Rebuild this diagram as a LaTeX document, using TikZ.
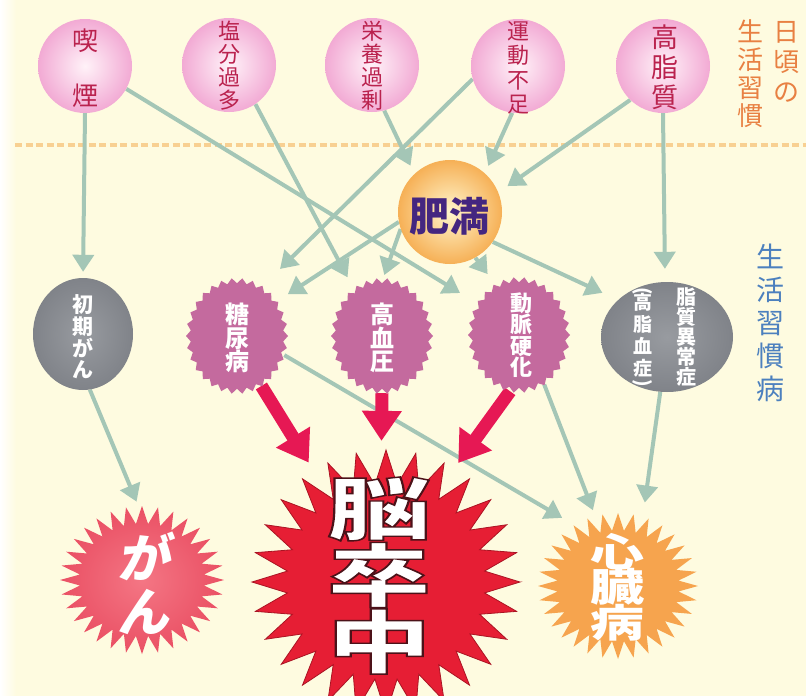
\documentclass[tikz,border=0pt]{standalone}
\usepackage{fontspec}
\usepackage{graphicx}
\usetikzlibrary{arrows.meta,shapes.geometric}
\newfontfamily\jp{Noto Sans CJK JP}
\newfontfamily\jpsl{Noto Sans CJK JP}[FakeSlant=0.18]
\definecolor{bg}{RGB}{254,251,224}
\definecolor{connc}{RGB}{164,198,182}
\definecolor{dashc}{RGB}{248,208,146}
\definecolor{pinke}{RGB}{242,170,212}
\definecolor{pinkc}{RGB}{255,242,248}
\definecolor{toptext}{RGB}{186,34,78}
\definecolor{orge}{RGB}{246,176,86}
\definecolor{orgc}{RGB}{255,246,205}
\definecolor{himantext}{RGB}{68,38,128}
\definecolor{greyin}{RGB}{152,155,160}
\definecolor{greyout}{RGB}{128,131,137}
\definecolor{mauve}{RGB}{196,106,158}
\definecolor{ganin}{RGB}{244,118,132}
\definecolor{ganout}{RGB}{234,80,100}
\definecolor{nosored}{RGB}{230,30,52}
\definecolor{nosodark}{RGB}{170,20,35}
\definecolor{shinorg}{RGB}{246,164,78}
\definecolor{redarrow}{RGB}{230,24,84}
\definecolor{lblorange}{RGB}{232,128,66}
\definecolor{lblblue}{RGB}{76,128,190}
\pgfdeclarelayer{back}
\pgfdeclarelayer{lines}
\pgfsetlayers{back,lines,main}
\newcommand\burst[8]{%
  \path[#8] plot[domain=0:360,samples=#6,variable=\t]
   ({#1+#3*(1-#7*(0.5-0.5*cos(#5*\t)))*cos(\t)},
    {#2+#4*(1-#7*(0.5-0.5*cos(#5*\t)))*sin(\t)}) -- cycle;}
% white glyph with a dark outline (one text, no copy)
\newcommand\outlined[1]{\scalebox{1}[0.66]{\textcolor{white}{\special{pdf:literal direct 0.30 0.07 0.10 RG 2.2 w 2 Tr}#1\special{pdf:literal direct 0 Tr}}}}
\newcommand\squash[1]{\scalebox{1}[0.72]{#1}}
\newcommand\vparL{\rotatebox[origin=c]{-90}{(}}
\newcommand\vparR{\rotatebox[origin=c]{-90}{)}}
\lineskiplimit=-100pt
\begin{document}
\begin{tikzpicture}[x=1pt,y=-1pt,
  sphere/.style={circle,minimum size=94pt,inner sep=0pt,inner color=pinkc,outer color=pinke},
  anc/.style={ellipse,inner sep=0pt},
  txt/.style={align=center,inner sep=0pt},
  toptxt/.style={txt,text=toptext,font={\jp\fontsize{22}{23}\selectfont}},
  r2txt/.style={txt,text=white,font={\jp\bfseries\fontsize{22}{23.5}\selectfont}},
  lbl/.style={txt,font={\jp\fontsize{26}{28}\selectfont}},
  nosotxt/.style={txt,font={\jp\bfseries\fontsize{104}{66.5}\selectfont}},
  shintxt/.style={txt,text=white,font={\jp\bfseries\fontsize{54}{35.5}\selectfont}},
  conn/.style={draw=connc,line width=4pt,-{Triangle[length=17pt,width=21pt]}},
  redarr/.style={draw=redarrow,line width=13pt,-{Triangle[length=30pt,width=38pt]}}
]
\useasboundingbox (0,0) rectangle (806,696);
\begin{pgfonlayer}{back}
  \fill[bg] (0,0) rectangle (806,696);
  \shade[left color=white,right color=bg] (0,0) rectangle (16,696);
  \draw[dashc,line width=4pt,dash pattern=on 7pt off 3.5pt] (15,145) -- (806,145);
\end{pgfonlayer}

% top spheres
\node[sphere] (kitsuen) at (85,66) {};
\node[sphere] (enbun) at (229,65) {};
\node[sphere] (eiyou) at (372,65) {};
\node[sphere] (undou) at (518,66) {};
\node[sphere] (koushi) at (663,66) {};
\node[toptxt,font={\jp\fontsize{26}{55}\selectfont}] (kitsuen-t) at (85,68) {喫\\煙};
\node[toptxt] (enbun-t) at (229,66) {塩\\分\\過\\多};
\node[toptxt] (eiyou-t) at (372,66) {栄\\養\\過\\剰};
\node[toptxt,font={\jp\fontsize{22}{24.5}\selectfont}] (undou-t) at (518,68) {運\\動\\不\\足};
\node[toptxt,font={\jp\fontsize{27}{30}\selectfont}] (koushi-t) at (665,67) {高\\脂\\質};

% obesity
\node[circle,minimum size=104pt,inner sep=0pt,inner color=orgc,outer color=orge] (himan) at (450,212) {};
\node[txt,text=himantext,font={\jp\bfseries\fontsize{40}{40}\selectfont}] (himan-t) at (449,216) {肥満};

% row 2
\node[anc,minimum width=100pt,minimum height=112pt,inner color=greyin,outer color=greyout] (shoki) at (83,334) {};
\node[r2txt,font={\jp\bfseries\fontsize{21}{21.7}\selectfont}] (shoki-t) at (83,337) {初\\期\\が\\ん};

\burst{237}{336}{51}{58}{30}{61}{0.09}{fill=mauve}
\node[anc,minimum width=100pt,minimum height=114pt] (tounyou) at (237,336) {};
\node[r2txt,font={\jp\bfseries\fontsize{24}{23.5}\selectfont}] (tounyou-t) at (237,338) {糖\\尿\\病};

\burst{382}{336}{51}{58}{30}{61}{0.09}{fill=mauve}
\node[anc,minimum width=100pt,minimum height=114pt] (kouketsu) at (382,336) {};
\node[r2txt,font={\jp\bfseries\fontsize{24}{23.5}\selectfont}] (kouketsu-t) at (382,338) {高\\血\\圧};

\burst{519}{335}{51}{58}{30}{61}{0.09}{fill=mauve}
\node[anc,minimum width=100pt,minimum height=114pt] (doumyaku) at (519,335) {};
\node[r2txt,font={\jp\bfseries\fontsize{22}{21.3}\selectfont}] (doumyaku-t) at (521,335) {動\\脈\\硬\\化};

\node[anc,minimum width=132pt,minimum height=110pt,inner color=greyin,outer color=greyout] (shishitsu) at (667,337) {};
\node[r2txt,font={\jp\bfseries\fontsize{20}{20}\selectfont}] (shishitsu-a) at (686,337) {脂\\質\\異\\常\\症};
\node[r2txt,font={\jp\bfseries\fontsize{19}{22}\selectfont}] (shishitsu-b) at (643,338) {\vparL\\[-9pt]高\\脂\\血\\症\\[-9pt]\vparR};

% bottom
\burst{142}{580}{82}{74}{32}{65}{0.24}{inner color=ganin,outer color=ganout}
\node[anc,minimum width=150pt,minimum height=136pt] (gan) at (142,580) {};
\node[txt,text=white,font={\jpsl\bfseries\fontsize{52}{54}\selectfont}] (gan-t) at (143,583) {が\\ん};

\burst{386}{582}{134}{132}{28}{57}{0.26}{fill=nosored,draw=nosodark,line width=0.8pt}
\node[circle,minimum size=264pt,inner sep=0pt] (noso) at (386,582) {};
\node[nosotxt] (noso-t) at (379,575.5) {\outlined{脳}\\\outlined{卒}\\\outlined{中}};

\burst{618}{586}{80}{73}{32}{65}{0.24}{fill=shinorg}
\node[anc,minimum width=156pt,minimum height=142pt] (shinzou) at (618,586) {};
\node[shintxt] (shinzou-t) at (617,587) {\squash{心}\\\squash{臓}\\\squash{病}};

% labels
\node[lbl,text=lblorange,font={\jp\fontsize{26}{30}\selectfont}] (lbl-a) at (786,62) {日\\頃\\の};
\node[lbl,text=lblorange] (lbl-b) at (750,74) {生\\活\\習\\慣};
\node[lbl,text=lblblue,font={\jp\fontsize{28}{33}\selectfont}] (lbl-c) at (770,323) {生\\活\\習\\慣\\病};

% connectors
\begin{pgfonlayer}{lines}
\draw[conn,shorten >=6pt] (kitsuen.-90) -- (shoki.90);
\draw[conn,shorten >=20pt] (kitsuen.-29) -- (doumyaku.143);
\draw[conn,shorten >=13pt] (enbun.-56) -- (kouketsu.121);
\draw[conn,shorten >=9pt] (eiyou.-75) -- (himan.133);
\draw[conn,shorten >=8pt] (undou.-97) -- (himan.48);
\draw[conn,shorten >=25pt] (undou.-164) -- (tounyou.63);
\draw[conn,shorten >=11pt] (koushi.-134) -- (himan.22);
\draw[conn,shorten >=13pt] (koushi.-90) -- (shishitsu.92);
\draw[conn,shorten >=13pt] (himan.-169) -- (tounyou.41);
\draw[conn,shorten >=4pt] (himan.-161) -- (kouketsu.89);
\draw[conn,shorten >=13pt] (himan.-61) -- (doumyaku.115);
\draw[conn,shorten >=17pt] (himan.-35) -- (shishitsu.143);
\draw[conn,shorten >=11pt] (shoki.-83) -- (gan.91);
\draw[conn,shorten >=16pt] (tounyou.-22) -- (shinzou.125);
\draw[conn,shorten >=8pt] (doumyaku.-63) -- (shinzou.108);
\draw[conn,shorten >=16pt] (shishitsu.-97) -- (shinzou.70);
\draw[redarr,shorten >=10pt] (tounyou.-64) -- (noso.123);
\draw[redarr,shorten >=9pt] (kouketsu.-90) -- (noso.92);
\draw[redarr,shorten >=7pt] (doumyaku.-99) -- (noso.59);
\end{pgfonlayer}
\end{tikzpicture}
\end{document}
